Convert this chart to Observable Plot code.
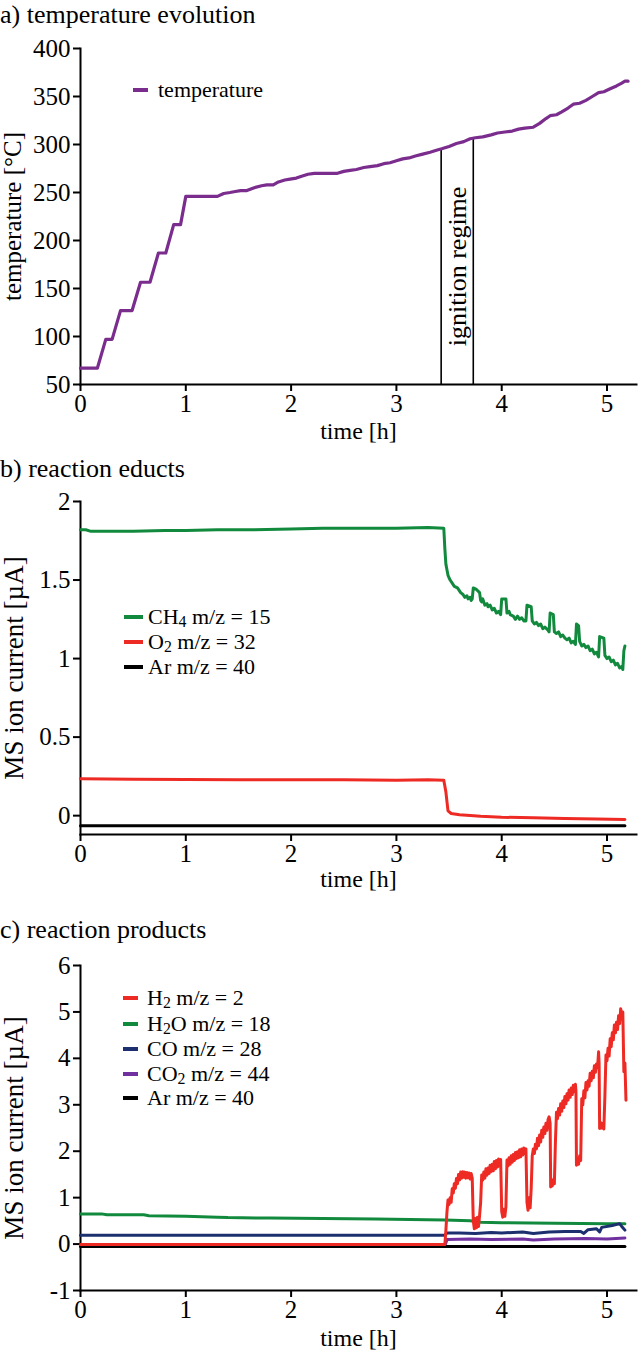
<!DOCTYPE html>
<html>
<head>
<meta charset="utf-8">
<script src="https://cdn.jsdelivr.net/npm/d3@7"></script>
<script src="https://cdn.jsdelivr.net/npm/@observablehq/plot@0.6"></script>
<style>
  html, body { margin: 0; padding: 0; background: white; }
  #page { position: relative; width: 640px; height: 1351px; overflow: hidden; font-family: 'Liberation Serif', 'Times New Roman', serif; color: black; }
  .panel { position: absolute; left: 0; }
  .title { position: absolute; left: 0; font-size: 26px; line-height: 29px; white-space: nowrap; z-index: 2; }
  .leg { position: absolute; display: flex; align-items: center; height: 24px; line-height: 24px; font-size: 22px; white-space: nowrap; z-index: 2; }
  .leg .sw { display: inline-block; height: 3.5px; }
  .leg sub { font-size: 0.72em; vertical-align: -0.2em; line-height: 0; }
</style>
</head>
<body>
<div id="page"></div>
<script>
// ---------- data ----------
const xTicks = [0, 1, 2, 3, 4, 5];
const tempTicks = [50, 100, 150, 200, 250, 300, 350, 400];
const eductTicks = [0, 0.5, 1, 1.5, 2];
const productTicks = [-1, 0, 1, 2, 3, 4, 5, 6];

// temperature [°C] vs time [h]
const temperature = [
  [0, 67], [0.16, 67], [0.24, 97], [0.30, 97], [0.38, 127], [0.49, 127], [0.57, 156.5], [0.66, 156.5],
  [0.74, 187], [0.81, 187], [0.885, 216.5], [0.95, 216.5], [1.0, 246], [1.10, 246], [1.20, 246], [1.30, 246],
  [1.36, 249], [1.42, 250], [1.47, 251], [1.52, 252], [1.58, 252], [1.65, 255], [1.72, 257], [1.77, 258],
  [1.83, 258], [1.88, 261], [1.94, 263], [1.99, 264], [2.05, 265], [2.10, 267], [2.16, 269], [2.22, 270],
  [2.30, 270], [2.38, 270], [2.44, 270], [2.50, 272], [2.56, 273], [2.62, 274], [2.69, 276], [2.75, 277],
  [2.82, 278], [2.88, 280], [2.94, 281], [3.00, 283], [3.06, 285], [3.12, 286], [3.18, 288], [3.25, 290],
  [3.32, 292], [3.38, 294], [3.43, 295.5], [3.50, 298], [3.57, 301], [3.64, 303], [3.70, 306], [3.75, 307],
  [3.82, 308], [3.90, 310], [3.96, 312], [4.03, 313], [4.10, 314], [4.16, 316], [4.22, 317], [4.30, 318],
  [4.36, 322], [4.42, 327], [4.46, 330], [4.52, 331], [4.57, 334], [4.63, 338], [4.68, 342], [4.74, 343],
  [4.80, 346], [4.86, 350], [4.92, 354], [4.97, 355], [5.03, 358], [5.09, 361], [5.14, 364], [5.17, 366], [5.20, 366]
];
const ignition = [{t: 3.425, bottom: 50, top: 295.5}, {t: 3.73, bottom: 50, top: 307}];
const ignitionLabel = [{t: 3.58, temp: 173, text: "ignition regime"}];

// reaction educts [µA]
const ch4 = [
  [0, 1.82], [0.05, 1.82], [0.1, 1.81], [0.3, 1.81], [0.5, 1.81], [0.8, 1.815], [1.0, 1.815], [1.3, 1.82],
  [1.6, 1.82], [2.0, 1.825], [2.3, 1.83], [2.6, 1.83], [3.0, 1.83], [3.3, 1.835], [3.45, 1.83], [3.46, 1.70],
  [3.47, 1.60], [3.49, 1.53], [3.51, 1.50], [3.53, 1.48], [3.55, 1.46], [3.58, 1.45], [3.61, 1.42], [3.63, 1.41],
  [3.65, 1.39], [3.67, 1.40], [3.68, 1.38], [3.70, 1.39], [3.71, 1.37], [3.72, 1.38], [3.73, 1.45], [3.76, 1.44],
  [3.79, 1.42], [3.80, 1.37], [3.81, 1.36], [3.82, 1.38], [3.84, 1.34], [3.86, 1.35], [3.87, 1.33], [3.89, 1.34],
  [3.91, 1.31], [3.93, 1.32], [3.95, 1.29], [3.97, 1.30], [3.99, 1.28], [4.00, 1.38], [4.04, 1.38], [4.05, 1.29],
  [4.07, 1.30], [4.08, 1.28], [4.11, 1.27], [4.13, 1.25], [4.15, 1.27], [4.17, 1.25], [4.19, 1.26], [4.21, 1.24],
  [4.23, 1.24], [4.24, 1.34], [4.28, 1.33], [4.29, 1.24], [4.31, 1.22], [4.33, 1.23], [4.35, 1.21], [4.37, 1.22],
  [4.39, 1.19], [4.41, 1.20], [4.44, 1.18], [4.45, 1.17], [4.46, 1.29], [4.49, 1.28], [4.50, 1.17], [4.52, 1.16],
  [4.54, 1.17], [4.56, 1.14], [4.58, 1.15], [4.60, 1.13], [4.62, 1.12], [4.64, 1.13], [4.66, 1.10], [4.68, 1.11],
  [4.70, 1.09], [4.71, 1.22], [4.73, 1.21], [4.74, 1.11], [4.76, 1.08], [4.78, 1.09], [4.80, 1.07], [4.82, 1.08],
  [4.84, 1.05], [4.86, 1.06], [4.88, 1.03], [4.90, 1.04], [4.92, 1.01], [4.93, 1.14], [4.97, 1.13], [4.98, 1.02],
  [5.00, 1.00], [5.02, 1.01], [5.04, 0.98], [5.06, 0.99], [5.08, 0.96], [5.10, 0.97], [5.12, 0.94], [5.14, 0.95],
  [5.15, 0.93], [5.16, 1.05], [5.17, 1.08]
];
const o2 = [
  [0, 0.235], [0.5, 0.232], [1.0, 0.23], [1.5, 0.228], [2.0, 0.228], [2.5, 0.229], [3.0, 0.226], [3.3, 0.228],
  [3.45, 0.226], [3.47, 0.15], [3.49, 0.03], [3.52, 0.014], [3.6, 0.006], [3.8, -0.004], [4.0, -0.01],
  [4.3, -0.014], [4.6, -0.018], [4.9, -0.022], [5.17, -0.024]
];
const arB = [[0, -0.064], [1, -0.064], [2, -0.064], [3, -0.064], [4, -0.064], [5.17, -0.064]];

// reaction products [µA]
const h2o = [
  [0, 0.65], [0.2, 0.65], [0.25, 0.63], [0.6, 0.63], [0.65, 0.61], [1.0, 0.60], [1.3, 0.58], [1.4, 0.57],
  [1.8, 0.56], [2.3, 0.55], [2.8, 0.54], [3.46, 0.52], [3.7, 0.50], [3.8, 0.47], [4.0, 0.46], [4.5, 0.45],
  [5.0, 0.44], [5.17, 0.44]
];
const co = [
  [0, 0.19], [1, 0.19], [2, 0.19], [3, 0.19], [3.46, 0.19], [3.48, 0.24], [3.6, 0.24], [3.75, 0.23],
  [3.9, 0.25], [4.0, 0.24], [4.2, 0.26], [4.3, 0.23], [4.45, 0.26], [4.6, 0.27], [4.75, 0.27], [4.78, 0.23],
  [4.82, 0.31], [4.9, 0.33], [4.93, 0.26], [4.95, 0.36], [5.05, 0.40], [5.12, 0.44], [5.14, 0.38], [5.17, 0.30]
];
const co2 = [
  [0, -0.04], [3.46, -0.04], [3.48, 0.10], [3.7, 0.11], [3.9, 0.10], [4.2, 0.11], [4.3, 0.09], [4.5, 0.11],
  [4.8, 0.12], [5.0, 0.11], [5.17, 0.13]
];
const arC = [[0, -0.05], [5.17, -0.05]];
const h2 = [
  [0, -0.01], [3.46, -0.01], [3.47, 0.3], [3.48, 0.69], [3.49, 0.95], [3.50, 0.85], [3.51, 1.0], [3.52, 0.9],
  [3.53, 1.19], [3.54, 1.1], [3.55, 1.3], [3.56, 1.2], [3.57, 1.41], [3.58, 1.3], [3.59, 1.5], [3.60, 1.38],
  [3.61, 1.55], [3.62, 1.42], [3.63, 1.56], [3.64, 1.44], [3.65, 1.55], [3.66, 1.42], [3.67, 1.54], [3.68, 1.43],
  [3.69, 1.53], [3.70, 1.40], [3.71, 1.52], [3.72, 1.42], [3.73, 0.5], [3.74, 0.33], [3.75, 0.55], [3.76, 0.35],
  [3.77, 0.58], [3.78, 0.38], [3.79, 0.62], [3.80, 0.9], [3.81, 1.49], [3.82, 1.38], [3.83, 1.55], [3.84, 1.42],
  [3.85, 1.62], [3.86, 1.48], [3.87, 1.64], [3.88, 1.52], [3.89, 1.70], [3.90, 1.56], [3.91, 1.72], [3.92, 1.58],
  [3.93, 1.78], [3.94, 1.62], [3.95, 1.80], [3.96, 1.66], [3.97, 1.83], [3.98, 1.68], [3.99, 1.82], [4.00, 0.7],
  [4.01, 0.58], [4.02, 0.75], [4.03, 0.60], [4.04, 0.8], [4.05, 1.81], [4.06, 1.68], [4.07, 1.86], [4.08, 1.72],
  [4.09, 1.90], [4.10, 1.76], [4.11, 1.93], [4.12, 1.80], [4.13, 1.97], [4.14, 1.84], [4.15, 1.99], [4.16, 1.86],
  [4.17, 2.03], [4.18, 1.88], [4.19, 2.05], [4.20, 1.92], [4.21, 2.07], [4.22, 1.95], [4.23, 2.05], [4.24, 0.9],
  [4.25, 0.73], [4.26, 1.0], [4.27, 0.78], [4.28, 1.2], [4.29, 1.9], [4.30, 2.05], [4.31, 1.95], [4.32, 2.15],
  [4.33, 2.05], [4.34, 2.28], [4.35, 2.12], [4.36, 2.35], [4.37, 2.2], [4.38, 2.45], [4.39, 2.3], [4.40, 2.52],
  [4.41, 2.38], [4.42, 2.6], [4.43, 2.45], [4.44, 2.68], [4.45, 2.74], [4.46, 2.6], [4.465, 1.23], [4.47, 1.4],
  [4.48, 1.25], [4.49, 1.38], [4.50, 1.3], [4.51, 2.2], [4.52, 2.84], [4.53, 2.7], [4.54, 2.92], [4.55, 2.78],
  [4.56, 3.02], [4.57, 2.86], [4.58, 3.08], [4.59, 2.94], [4.60, 3.18], [4.61, 3.02], [4.62, 3.24], [4.63, 3.1],
  [4.64, 3.32], [4.65, 3.16], [4.66, 3.36], [4.67, 3.22], [4.68, 3.42], [4.69, 3.28], [4.70, 3.44], [4.705, 3.3],
  [4.71, 1.7], [4.72, 1.85], [4.73, 1.72], [4.74, 1.9], [4.75, 1.8], [4.76, 3.13], [4.77, 3.0], [4.78, 3.3],
  [4.79, 3.15], [4.80, 3.48], [4.81, 3.32], [4.82, 3.52], [4.83, 3.4], [4.84, 3.68], [4.85, 3.52], [4.86, 3.72],
  [4.87, 3.58], [4.88, 3.84], [4.89, 3.7], [4.90, 3.88], [4.91, 3.8], [4.92, 4.14], [4.925, 3.9], [4.93, 2.49],
  [4.94, 2.62], [4.95, 2.5], [4.96, 2.6], [4.97, 2.48], [4.98, 3.2], [4.99, 4.07], [5.00, 3.95], [5.01, 4.22],
  [5.02, 4.05], [5.03, 4.42], [5.04, 4.25], [5.05, 4.55], [5.06, 4.4], [5.07, 4.72], [5.08, 4.55], [5.09, 4.78],
  [5.10, 4.62], [5.11, 4.92], [5.12, 4.75], [5.13, 5.07], [5.14, 4.85], [5.15, 5.0], [5.16, 3.71], [5.17, 3.9],
  [5.18, 3.10]
];

// ---------- styles ----------
const serif = "'Liberation Serif', 'Times New Roman', serif";
const C = {temp: "#7b2d8e", green: "#128a3e", red: "#ee2a24", blue: "#1c2f6e", purple: "#7030a0", black: "#000000"};

function axisMarks(yTicks, yLabel, yLabelSize, xLabelOffset) {
  return [
    Plot.axisX({ticks: xTicks, tickSize: 7, tickPadding: 3, strokeWidth: 2, fontSize: 25, fontFamily: serif,
      tickFormat: d => String(d), label: null}),
    Plot.axisX({ticks: [], tickSize: 0, fontSize: 24, fontFamily: serif,
      label: "time [h]", labelAnchor: "center", labelArrow: "none", labelOffset: xLabelOffset}),
    Plot.axisY({ticks: yTicks, tickSize: 7, tickPadding: 3, strokeWidth: 2, fontSize: 25, fontFamily: serif,
      tickFormat: d => String(d), label: null}),
    Plot.axisY({ticks: [], tickSize: 0, fontSize: yLabelSize, fontFamily: serif,
      label: yLabel, labelAnchor: "center", labelArrow: "none", labelOffset: 77}),
    Plot.frame({anchor: "left", strokeWidth: 2, strokeLinecap: "square"}),
    Plot.frame({anchor: "bottom", strokeWidth: 2, strokeLinecap: "square"})
  ];
}
const common = {width: 640, marginLeft: 80, marginRight: 4,
  style: {fontFamily: serif, fontSize: "24px", color: "black", background: "transparent", overflow: "visible"}};
const line = (data, color, w) => Plot.line(data, {x: d => d[0], y: d => d[1], stroke: color, strokeWidth: w, strokeLinejoin: "round", curve: "linear"});

const chartA = Plot.plot({
  ...common, height: 450, marginTop: 48, marginBottom: 66,
  x: {domain: [0, 5.28]}, y: {domain: [50, 400]},
  marks: [
    ...axisMarks(tempTicks, "temperature [°C]", 25, 54),
    Plot.ruleX(ignition, {x: "t", y1: "bottom", y2: "top", stroke: "black", strokeWidth: 1.6}),
    Plot.text(ignitionLabel, {x: "t", y: "temp", text: "text", rotate: -90, fontSize: 26, fontFamily: serif, fill: "black"}),
    line(temperature, C.temp, 3.2)
  ]
});

const chartB = Plot.plot({
  ...common, height: 445, marginTop: 51, marginBottom: 61,
  x: {domain: [0, 5.28]}, y: {domain: [-0.12, 2]},
  marks: [
    ...axisMarks(eductTicks, "MS ion current [µA]", 27, 52),
    line(arB, C.black, 3),
    line(o2, C.red, 3),
    line(ch4, C.green, 3)
  ]
});

const chartC = Plot.plot({
  ...common, height: 456, marginTop: 70, marginBottom: 61,
  x: {domain: [0, 5.28]}, y: {domain: [-1, 6]},
  marks: [
    ...axisMarks(productTicks, "MS ion current [µA]", 27, 55),
    line(h2o, C.green, 3),
    line(co, C.blue, 3),
    line(co2, C.purple, 3),
    line(arC, C.black, 3),
    line(h2, C.red, 3)
  ]
});

// ---------- layout ----------
const page = document.getElementById("page");
function place(el, top) { el.classList.add("panel"); el.style.top = top + "px"; page.appendChild(el); }
place(chartA, 0);
place(chartB, 450);
place(chartC, 895);

function title(text, top) {
  const d = document.createElement("div");
  d.className = "title"; d.textContent = text; d.style.top = top + "px";
  page.appendChild(d);
}
title("a) temperature evolution", 0);
title("b) reaction educts", 454);
title("c) reaction products", 915);

function legend(items, left, lineW, textLeft, centers) {
  items.forEach((it, i) => {
    const d = document.createElement("div");
    d.className = "leg";
    d.style.left = left + "px";
    d.style.top = (centers[i] - 12) + "px";
    const sw = document.createElement("span");
    sw.className = "sw"; sw.style.width = lineW + "px"; sw.style.background = it.color;
    sw.style.marginRight = (textLeft - left - lineW) + "px";
    const t = document.createElement("span");
    t.innerHTML = it.label;
    d.appendChild(sw); d.appendChild(t);
    page.appendChild(d);
  });
}
legend([{label: "temperature", color: C.temp}], 133, 15, 158, [90]);
legend([
  {label: "CH<sub>4</sub> m/z = 15", color: C.green},
  {label: "O<sub>2</sub> m/z = 32", color: C.red},
  {label: "Ar m/z = 40", color: C.black}
], 124, 19, 148, [617, 642, 667]);
legend([
  {label: "H<sub>2</sub> m/z = 2", color: C.red},
  {label: "H<sub>2</sub>O m/z = 18", color: C.green},
  {label: "CO m/z = 28", color: C.blue},
  {label: "CO<sub>2</sub> m/z = 44", color: C.purple},
  {label: "Ar m/z = 40", color: C.black}
], 123, 15, 147, [998, 1024, 1049, 1074, 1098]);
</script>
</body>
</html>
